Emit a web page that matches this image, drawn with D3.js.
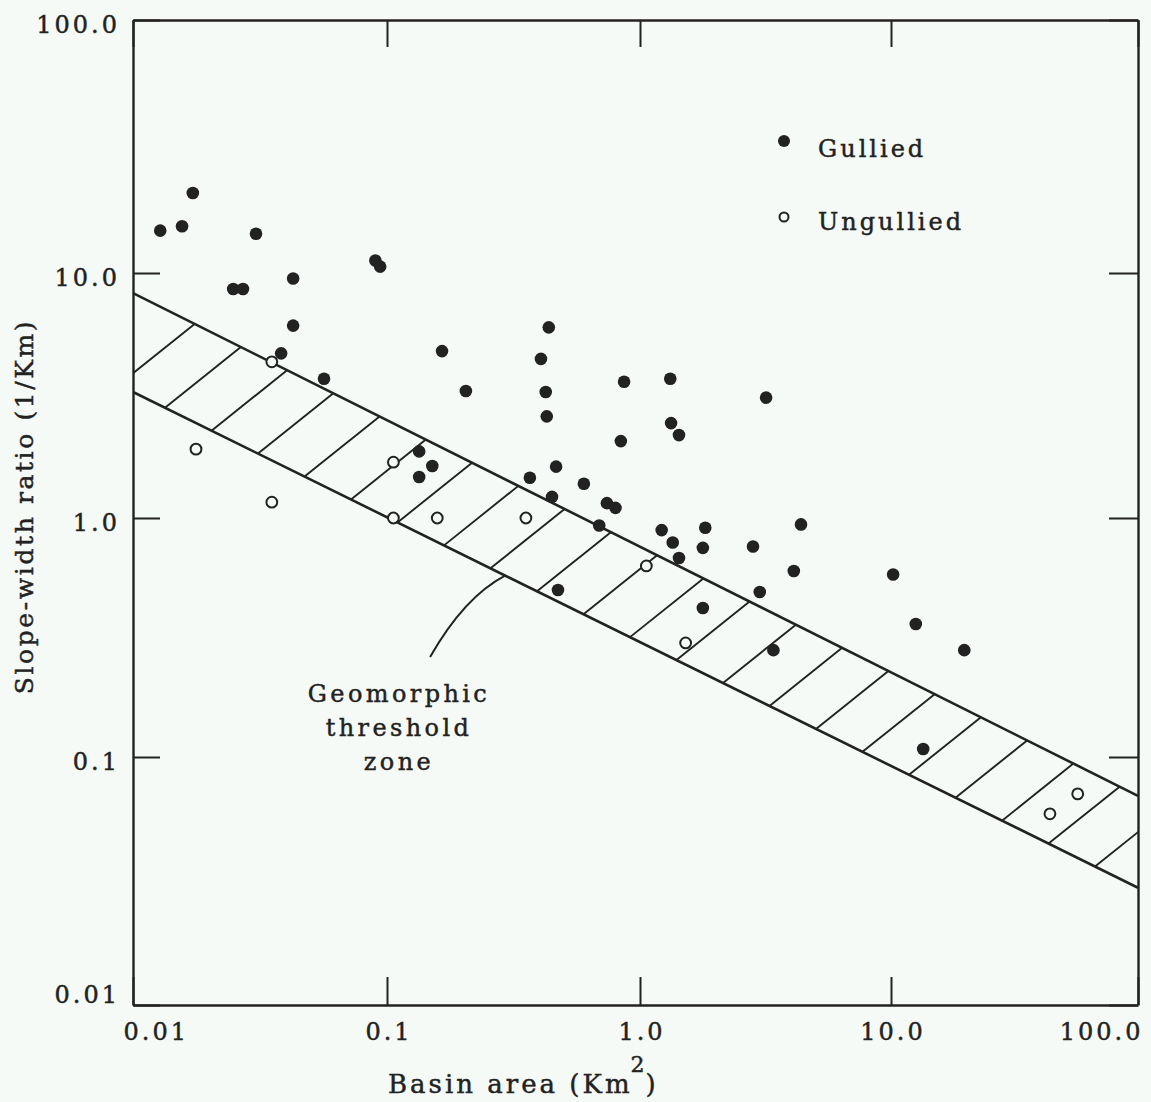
<!DOCTYPE html>
<html>
<head>
<meta charset="utf-8">
<script src="https://cdn.jsdelivr.net/npm/d3@7"></script>
<style>
  html, body { margin: 0; padding: 0; background: #f5faf6; }
  svg { display: block; }
  text { font-family: "DejaVu Serif", "Liberation Serif", serif; fill: #222; stroke: #222; stroke-width: 0.45px; }
</style>
</head>
<body>
<svg id="chart" width="1151" height="1102"></svg>
<script>
// Axis ticks (log decades) and their printed labels
const xTicks = [0.01, 0.1, 1, 10, 100];
const xTickLabels = ["0.01", "0.1", "1.0", "10.0", "100.0"];
const yTicks = [0.01, 0.1, 1, 10, 100];
const yTickLabels = ["0.01", "0.1", "1.0", "10.0", "100.0"];

// Gullied basins: basin area (km²) and slope-width ratio (1/km)
const gulliedArea = [0.0128, 0.0156, 0.0172, 0.0305, 0.0248, 0.0271, 0.0427, 0.090, 0.094, 0.0427,
  0.0383, 0.0565, 0.165, 0.205, 0.134, 0.151, 0.134, 0.436, 0.406, 0.424,
  0.428, 0.865, 1.32, 0.466, 0.367, 0.449, 0.60, 0.84, 1.33, 1.43,
  0.74, 0.80, 0.69, 1.22, 1.35, 1.43, 1.82, 1.78, 2.82, 3.18,
  4.38, 0.474, 1.78, 3.0, 4.1, 3.4, 10.2, 12.6, 19.8, 13.5];
const gulliedRatio = [14.7, 15.3, 20.7, 14.3, 8.6, 8.6, 9.5, 11.2, 10.6, 6.1,
  4.7, 3.7, 4.8, 3.3, 1.87, 1.63, 1.47, 6.0, 4.46, 3.27,
  2.6, 3.6, 3.7, 1.62, 1.46, 1.22, 1.38, 2.06, 2.44, 2.18,
  1.15, 1.10, 0.93, 0.89, 0.79, 0.68, 0.91, 0.75, 0.76, 3.1,
  0.94, 0.50, 0.42, 0.49, 0.60, 0.28, 0.58, 0.36, 0.28, 0.108];

// Ungullied basins
const ungulliedArea = [0.0177, 0.0352, 0.0352, 0.106, 0.106, 0.158, 0.354, 1.06, 1.52, 44, 57];
const ungulliedRatio = [1.91, 1.16, 4.34, 1.69, 1.0, 1.0, 1.0, 0.63, 0.30, 0.059, 0.071];

// Geomorphic threshold zone: boundary lines at the ends of the area range
const zoneArea = [0.01, 100];
const zoneUpper = [8.28, 0.0697];
const zoneLower = [3.27, 0.0297];

const annotationLines = ["Geomorphic", "threshold", "zone"];
const legendItems = [{ label: "Gullied", filled: true }, { label: "Ungullied", filled: false }];

const ink = "#222";
const paper = "#f5faf6";
const svg = d3.select("#chart");

// Log scales, one segment per decade
const x = d3.scaleLog().domain(xTicks).range([133, 387, 640, 891, 1138]);
const y = d3.scaleLog().domain(yTicks).range([1005, 757, 518, 273, 20]);
const plotLeft = x(0.01), plotRight = x(100), plotTop = y(100), plotBottom = y(0.01);

svg.append("defs").append("clipPath").attr("id", "plot-clip")
  .append("rect").attr("x", plotLeft).attr("y", plotTop)
  .attr("width", plotRight - plotLeft).attr("height", plotBottom - plotTop);

// ---- Threshold zone: two boundary lines with diagonal hatching ----
const zone = svg.append("g").attr("clip-path", "url(#plot-clip)");
const xa = x(zoneArea[0]), xb = x(zoneArea[1]);
const lowerAt = px => y(zoneLower[0]) + (y(zoneLower[1]) - y(zoneLower[0])) * (px - xa) / (xb - xa);
const upperAt = px => y(zoneUpper[0]) + (y(zoneUpper[1]) - y(zoneUpper[0])) * (px - xa) / (xb - xa);
const upperSlope = (y(zoneUpper[1]) - y(zoneUpper[0])) / (xb - xa);

const hatchStep = 46.5, hatchRise = 0.8;
const hatches = [];
for (let px = xa - 14.5; px < xb + hatchStep; px += hatchStep) {
  const py = lowerAt(px);
  const t = (py - upperAt(px)) / (hatchRise + upperSlope);
  hatches.push([[px, py], [px + t, py - hatchRise * t]]);
}
zone.selectAll("line.hatch").data(hatches).join("line").attr("class", "hatch")
  .attr("x1", d => d[0][0]).attr("y1", d => d[0][1])
  .attr("x2", d => d[1][0]).attr("y2", d => d[1][1])
  .attr("stroke", ink).attr("stroke-width", 1.9);

const bound = d3.line().x(d => x(d[0])).y(d => y(d[1]));
[zoneUpper, zoneLower].forEach(vals => {
  zone.append("path")
    .attr("d", bound(zoneArea.map((a, i) => [a, vals[i]])))
    .attr("fill", "none").attr("stroke", ink).attr("stroke-width", 2.6);
});

// ---- Axes: frame with inward ticks on all four sides ----
const tickFont = g => g.style("font-size", "24px").style("letter-spacing", "3px")
  .style("font-family", '"DejaVu Serif", "Liberation Serif", serif');
const axisStyle = g => {
  g.select(".domain").attr("stroke", ink).attr("stroke-width", 2.4);
  g.selectAll(".tick line").attr("stroke", ink).attr("stroke-width", 2);
  g.selectAll(".tick text").attr("fill", ink).attr("stroke", ink).attr("stroke-width", 0.45).call(tickFont);
};

const gx = svg.append("g").attr("transform", `translate(0,${plotBottom})`)
  .call(d3.axisBottom(x).tickValues(xTicks).tickFormat((d, i) => xTickLabels[i])
    .tickSizeInner(-28).tickSizeOuter(0).tickPadding(17.5))
  .call(axisStyle);
gx.selectAll(".tick text")
  .attr("text-anchor", (d, i) => i === 0 ? "start" : i === xTicks.length - 1 ? "end" : "middle")
  .attr("dx", (d, i) => i === 0 ? -10 : i === xTicks.length - 1 ? 5 : 1.5);

svg.append("g").attr("transform", `translate(0,${plotTop})`)
  .call(d3.axisTop(x).tickValues(xTicks).tickFormat("").tickSizeInner(-27).tickSizeOuter(0))
  .call(axisStyle);

const gy = svg.append("g").attr("transform", `translate(${plotLeft},0)`)
  .call(d3.axisLeft(y).tickValues(yTicks).tickFormat((d, i) => yTickLabels[i])
    .tickSizeInner(-27).tickSizeOuter(0).tickPadding(13))
  .call(axisStyle);
gy.selectAll(".tick text").attr("dy", (d, i) => i === 0 ? "-0.1em" : "0.5em");

svg.append("g").attr("transform", `translate(${plotRight},0)`)
  .call(d3.axisRight(y).tickValues(yTicks).tickFormat("").tickSizeInner(-29).tickSizeOuter(0))
  .call(axisStyle);

// ---- Axis titles ----
const xTitle = svg.append("text")
  .attr("x", 388).attr("y", 1093)
  .style("font-size", "26px").style("letter-spacing", "3px");
xTitle.append("tspan").text("Basin area (Km");
xTitle.append("tspan").attr("dx", -2).attr("dy", -21).style("font-size", "22px").style("letter-spacing", "1px").text("2");
xTitle.append("tspan").attr("dy", 21).text(")");

svg.append("text")
  .attr("transform", `translate(33,${(plotTop + plotBottom) / 2 - 6}) rotate(-90)`)
  .attr("text-anchor", "middle").style("font-size", "25px").style("letter-spacing", "2.6px")
  .text("Slope-width ratio (1/Km)");

// ---- Data points ----
const pts = svg.append("g");
pts.selectAll("circle.gullied").data(gulliedArea.map((a, i) => [a, gulliedRatio[i]]))
  .join("circle").attr("class", "gullied")
  .attr("cx", d => x(d[0])).attr("cy", d => y(d[1])).attr("r", 6.3)
  .attr("fill", ink);
pts.selectAll("circle.ungullied").data(ungulliedArea.map((a, i) => [a, ungulliedRatio[i]]))
  .join("circle").attr("class", "ungullied")
  .attr("cx", d => x(d[0])).attr("cy", d => y(d[1])).attr("r", 5.4)
  .attr("fill", paper).attr("stroke", ink).attr("stroke-width", 2);

// ---- Legend ----
const legend = svg.append("g").attr("transform", "translate(784,141)");
legendItems.forEach((item, i) => {
  const row = legend.append("g").attr("transform", `translate(0,${i * 76})`);
  if (item.filled) {
    row.append("circle").attr("r", 6).attr("fill", ink);
  } else {
    row.append("circle").attr("r", 4.5).attr("fill", "none").attr("stroke", ink).attr("stroke-width", 2);
  }
  row.append("text").attr("x", 34).attr("y", i === 0 ? 16 : 13)
    .style("font-size", "24px").style("letter-spacing", "3px").text(item.label);
});

// ---- Threshold zone annotation with curved leader ----
const anchorArea = 0.293;
const ax = x(anchorArea), ay = lowerAt(ax);
const sx = x(0.148), sy = y(0.262);
svg.append("path")
  .attr("d", `M${sx},${sy} Q${sx + 34},${sy - 60} ${ax},${ay}`)
  .attr("fill", "none").attr("stroke", ink).attr("stroke-width", 2);

const note = svg.append("text").attr("text-anchor", "middle")
  .style("font-size", "24px").style("letter-spacing", "3.4px");
annotationLines.forEach((line, i) => {
  note.append("tspan").attr("x", 399).attr("y", 702 + i * 34).text(line);
});
</script>
</body>
</html>
